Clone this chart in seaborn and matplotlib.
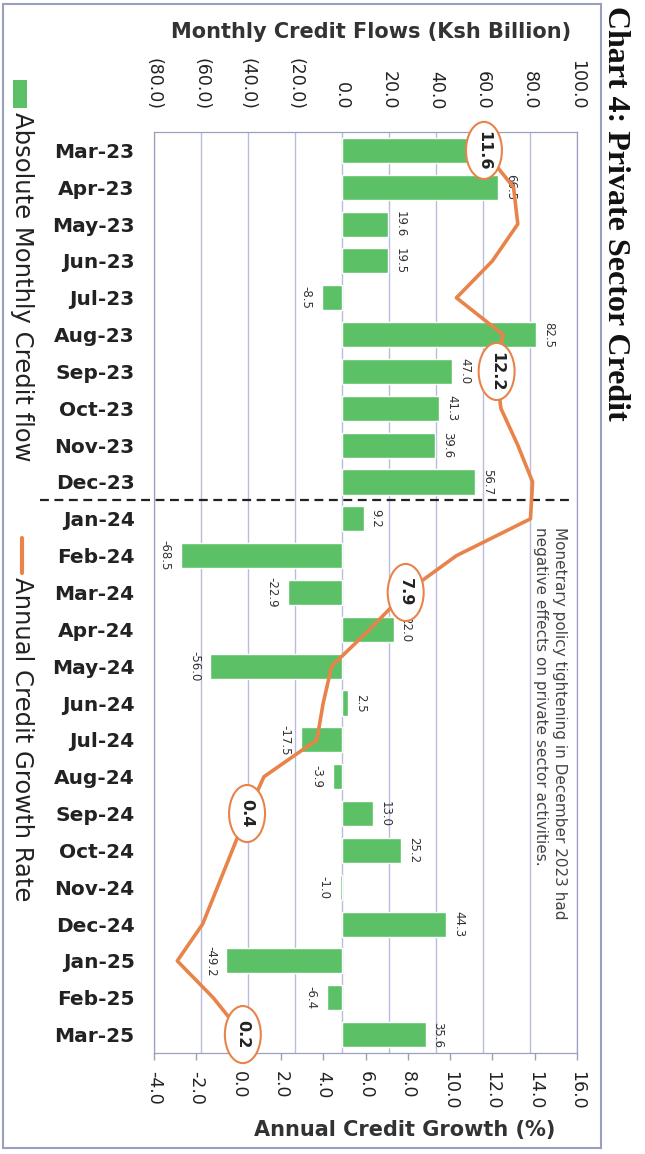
import numpy as np
import matplotlib.pyplot as plt
import seaborn as sns
from matplotlib.patches import Ellipse, Rectangle
from matplotlib.lines import Line2D
from matplotlib.ticker import FuncFormatter

# data
months = ['Mar-23', 'Apr-23', 'May-23', 'Jun-23', 'Jul-23', 'Aug-23', 'Sep-23',
          'Oct-23', 'Nov-23', 'Dec-23', 'Jan-24', 'Feb-24', 'Mar-24', 'Apr-24',
          'May-24', 'Jun-24', 'Jul-24', 'Aug-24', 'Sep-24', 'Oct-24', 'Nov-24',
          'Dec-24', 'Jan-25', 'Feb-25', 'Mar-25']
credit_flow = [55.7, 66.5, 19.6, 19.5, -8.5, 82.5, 47.0, 41.3, 39.6, 56.7, 9.2,
               -68.5, -22.9, 22.0, -56.0, 2.5, -17.5, -3.9, 13.0, 25.2, -1.0,
               44.3, -49.2, -6.4, 35.6]
growth_rate = [11.6, 13.0, 13.2, 12.0, 10.3, 12.5, 12.2, 12.4, 13.2, 13.9, 13.8,
               10.3, 7.9, 6.2, 4.4, 4.0, 3.7, 1.2, 0.4, -0.3, -1.0, -1.7, -2.9,
               -1.2, 0.2]
circled = ['Mar-23', 'Sep-23', 'Mar-24', 'Sep-24', 'Mar-25']
flow_ticks = [-80, -60, -40, -20, 0, 20, 40, 60, 80, 100]
growth_ticks = [-4, -2, 0, 2, 4, 6, 8, 10, 12, 14, 16]
note = 'Monetrary policy tightening in December 2023 had\nnegative effects on private sector activities.'

green = '#5cc166'
orange = '#e8834a'
gridc = '#b9bcdc'
framec = '#9a9fc0'

sns.set_style('white')
plt.rcParams['font.family'] = ['DejaVu Sans']

fig = plt.figure(figsize=(6.45, 11.54), dpi=100)
ax = fig.add_axes([154/645, 1-1053/1154, 423/645, 921/1154])

# bars = monthly credit flows (top axis)
sns.barplot(x=credit_flow, y=months, orient='h', color=green, saturation=1,
            width=0.68, ax=ax, zorder=2)

# line = annual credit growth (bottom axis), twin made first so the top axis stays on top
ax2 = ax.twiny()
sns.lineplot(x=growth_rate, y=np.arange(len(months)), orient='y', sort=False,
             color=orange, lw=2.6, ax=ax2)

ax.set_xlim(-80, 100)
ax.set_xticks(flow_ticks)
ax.xaxis.set_major_formatter(FuncFormatter(lambda v, p: f'({abs(v):.1f})' if v < 0 else f'{v:.1f}'))
ax.xaxis.tick_top()
ax.tick_params(axis='x', labelrotation=-90, labelsize=12.5, length=0, pad=16, colors='#222222')
ax.tick_params(axis='y', length=0, pad=14)
for lab in ax.get_yticklabels():
    lab.set_fontsize(14.5)
    lab.set_fontweight('bold')
    lab.set_color('#222222')
ax.grid(axis='x', color=gridc, lw=1)
ax.set_axisbelow(True)
ax.set_xlabel('')
ax.set_ylabel('')
for s in ax.spines.values():
    s.set_color(framec)

for i, v in enumerate(credit_flow):
    if v >= 0:
        ax.text(v + 2.5, i, f'{v:.1f}', rotation=-90, ha='left', va='center', fontsize=8.5, color='#333333')
    else:
        ax.text(v - 4, i, f'{v:.1f}', rotation=-90, ha='right', va='center', fontsize=8.5, color='#333333')

# split between 2023 and 2024
ax.axhline(9.5, xmin=-0.27, xmax=0.99, color='#222222', ls=(0, (4, 2.5)), lw=1.6,
           clip_on=False, zorder=4)

ax2.set_xlim(-4, 16)
ax2.set_xticks(growth_ticks)
ax2.xaxis.set_major_formatter(FuncFormatter(lambda v, p: f'{v:.1f}'))
ax2.xaxis.tick_bottom()
ax2.tick_params(axis='x', labelrotation=-90, labelsize=12.5, length=5, width=1,
                color=framec, pad=8, labelcolor='#222222')
ax2.set_xlabel('')
ax2.set_ylabel('')
for s in ax2.spines.values():
    s.set_color(framec)
ax.set_ylim(len(months) - 0.5, -0.5)

for m in circled:
    i = months.index(m)
    g = growth_rate[i]
    ax2.add_patch(Ellipse((g, i), width=1.7, height=1.55, fc='white', ec=orange,
                          lw=1.5, zorder=5, clip_on=False))
    ax2.text(g, i, f'{g:.1f}', rotation=-90, ha='center', va='center', fontsize=11.5,
             fontweight='bold', color='#222222', zorder=6)

ax2.text(0.977, 0.571, note, transform=ax2.transAxes, rotation=-90, ha='right', va='top',
         multialignment='left', fontsize=11, color='#444444', linespacing=1.35)

# axis titles
fig.text(371/645, 1-32/1154, 'Monthly Credit Flows (Ksh Billion)', ha='center', va='center',
         fontsize=15, fontweight='bold', color='#333333')
fig.text(405/645, 1-1130/1154, 'Annual Credit Growth (%)', ha='center', va='center',
         fontsize=15, fontweight='bold', color='#333333')

# title on the right
fig.text(615/645, 1-6/1154, 'Chart 4: Private Sector Credit', rotation=-90, ha='center',
         va='top', fontsize=23, fontweight='bold', family='Liberation Serif', color='#111111')

# legend built by hand (rotated text)
fig.add_artist(Rectangle((13/645, 1-108/1154), 14/645, 28/1154, transform=fig.transFigure,
                         fc=green, ec='none'))
fig.text(22/645, 1-112/1154, 'Absolute Monthly Credit flow', rotation=-90, ha='center',
         va='top', fontsize=17.5, color='#222222')
fig.add_artist(Line2D([22/645, 22/645], [1-538/1154, 1-573/1154], transform=fig.transFigure,
                      color=orange, lw=3))
fig.text(22/645, 1-577/1154, 'Annual Credit Growth Rate', rotation=-90, ha='center',
         va='top', fontsize=17.5, color='#222222')

# outer frame
fig.add_artist(Rectangle((3/645, 1-1148/1154), 598/645, 1144/1154, transform=fig.transFigure,
                         fill=False, ec=framec, lw=1.5))

fig.savefig('out.png', dpi=100)
